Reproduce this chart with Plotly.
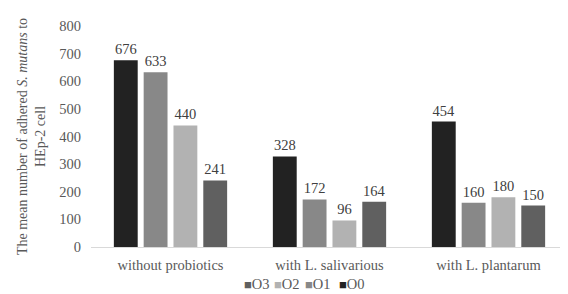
import plotly.graph_objects as go

categories = ["without probiotics", "with L. salivarious", "with L. plantarum"]
series_names = ["O0", "O1", "O2", "O3"]
O0 = [676, 328, 454]
O1 = [633, 172, 160]
O2 = [440, 96, 180]
O3 = [241, 164, 150]
values = [O0, O1, O2, O3]
colors = ["#222222", "#888888", "#b2b2b2", "#606060"]
y_ticks = [0, 100, 200, 300, 400, 500, 600, 700, 800]

font_family = "Liberation Serif, Times New Roman, serif"
txt = "#595959"
fs = 14.5

fig = go.Figure()
for name, vals, col in zip(series_names, values, colors):
    fig.add_trace(go.Bar(
        name=name, x=categories, y=vals, marker=dict(color=col, line=dict(width=0)),
        text=[str(v) for v in vals], textposition="outside",
        textfont=dict(family=font_family, size=fs, color="#404040"),
        cliponaxis=False, showlegend=False,
    ))

# compact legend (reversed order like the reference)
legend_x = [0.317, 0.380, 0.445, 0.516]
for xpos, name, col in zip(legend_x, series_names[::-1], colors[::-1]):
    fig.add_annotation(
        x=xpos, y=-0.167, xref="paper", yref="paper", xanchor="left", yanchor="middle",
        showarrow=False,
        text=f"<span style='color:{col};font-size:13px'>■</span>{name}",
        font=dict(family=font_family, size=fs, color=txt),
    )

fig.update_layout(
    width=560, height=286,
    margin=dict(l=83, r=0, t=18, b=47),
    paper_bgcolor="white", plot_bgcolor="white",
    barmode="group", bargap=0.25, bargroupgap=0.2,
    font=dict(family=font_family, size=fs, color=txt),
    xaxis=dict(showgrid=False, showline=True, linecolor="#d9d9d9", linewidth=1,
               ticks="", ticklabelstandoff=5, tickfont=dict(size=fs, color=txt)),
    yaxis=dict(range=[0, 800], tickvals=y_ticks, showgrid=False, showline=False,
               zeroline=False, ticks="", ticklabelstandoff=9,
               tickfont=dict(size=fs, color=txt),
               title=dict(text="The mean number of adhered <i>S. mutans</i> to<br>HEp-2 cell",
                          font=dict(size=14, color=txt), standoff=10)),
)

fig.write_html("out.html")
